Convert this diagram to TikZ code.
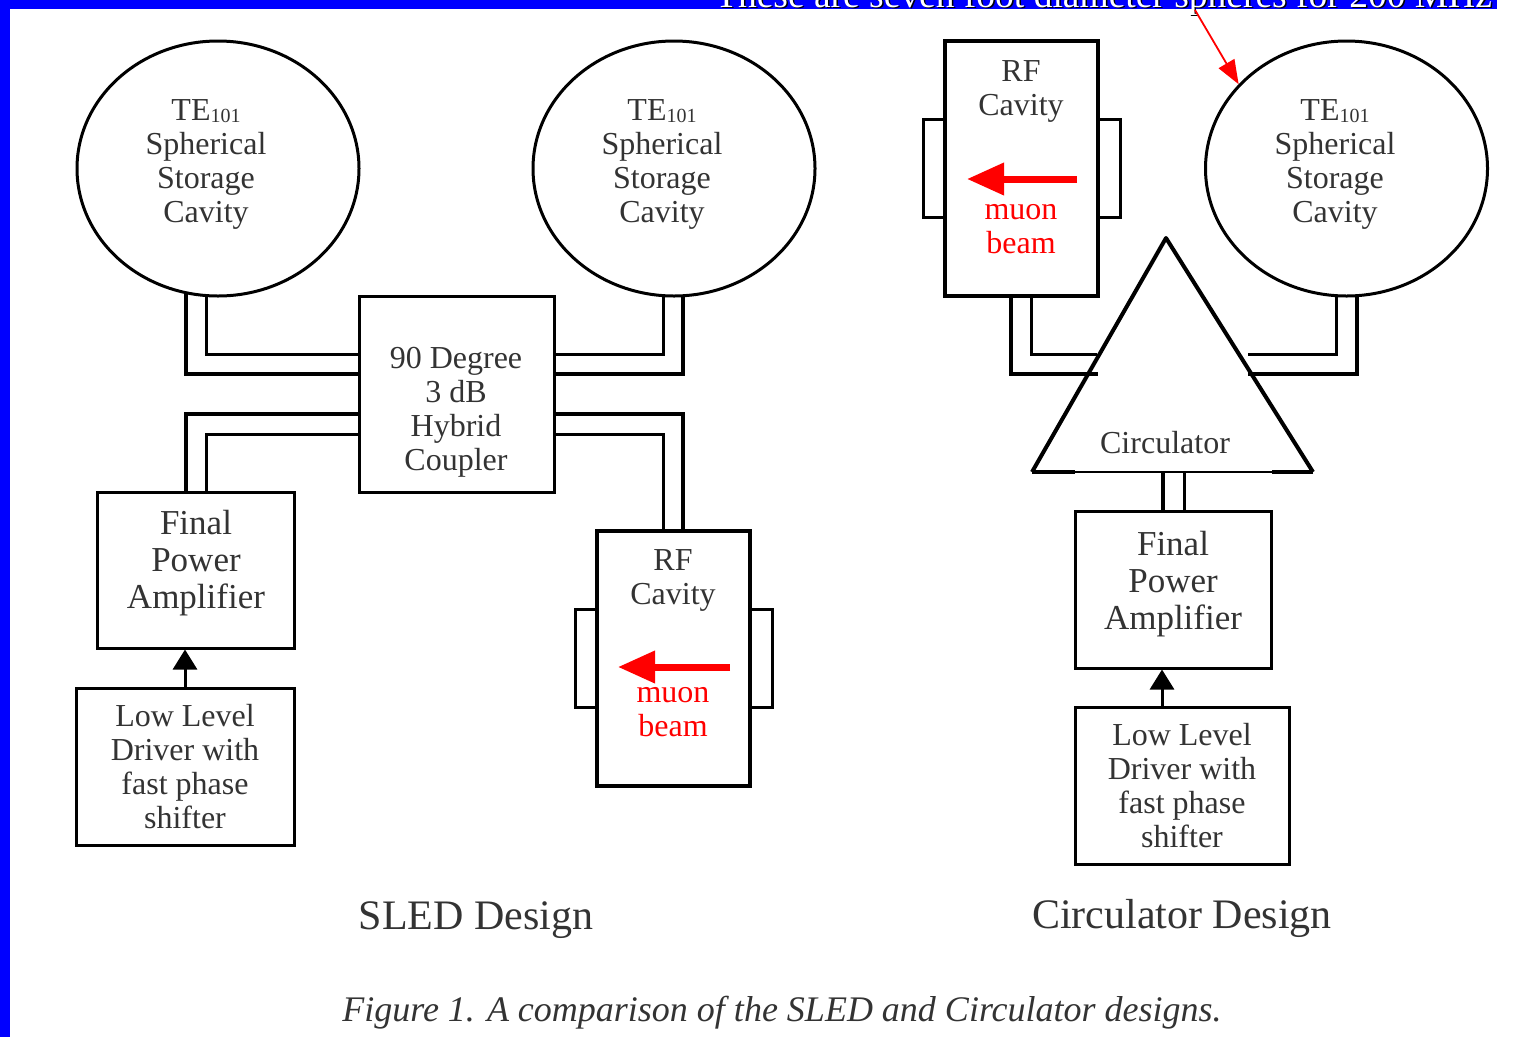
\documentclass[tikz,border=0pt]{standalone}
\usepackage{fontspec}
\setmainfont{Liberation Serif}
\usetikzlibrary{arrows.meta, shapes.geometric, positioning, backgrounds}

\newcommand{\temode}{TE\raisebox{-2pt}{\fontsize{20}{20}\selectfont 101}}

\begin{document}
\begin{tikzpicture}[x=1pt, y=-1pt,
    every node/.style={font=\fontsize{32}{34}\selectfont, text=black!80, align=center},
    box/.style={rectangle, draw=black, line width=3pt, inner sep=0pt},
    cavbox/.style={rectangle, draw=black, line width=4pt, inner sep=0pt, minimum width=153pt, minimum height=255pt},
    tab/.style={rectangle, draw=black, line width=3pt, inner sep=0pt, minimum width=22pt, minimum height=98pt},
    sphere/.style={ellipse, draw=black, fill=white, line width=3pt, inner sep=0pt, minimum width=282pt, minimum height=255pt},
    guideout/.style={line width=4pt},
    guidein/.style={line width=3pt},
    feed/.style={-{Triangle[length=20pt,width=24pt]}, line width=3pt},
    beam/.style={red, -{Triangle[length=37pt,width=31pt]}, line width=7pt},
    pointer/.style={red, -{Triangle[length=24pt,width=18pt]}, line width=1.8pt},
    redtxt/.style={text=red},
    bigtxt/.style={font=\fontsize{35}{37}\selectfont},
    title/.style={font=\fontsize{42}{44}\selectfont}]
  \useasboundingbox (0,0) rectangle (1533,1037);
  % Frame
  \fill[blue] (0,0) rectangle (1497,9);
  \fill[blue] (0,0) rectangle (10,1037);
  \node[font=\fontsize{37.5}{40}\selectfont, text=black, anchor=base] (headshade) at (1105,8.5) {These are seven foot diameter spheres for 200 MHz};
  \node[font=\fontsize{37.5}{40}\selectfont, text=white, anchor=base] (head) at (1103.5,7) {These are seven foot diameter spheres for 200 MHz};
  % Spheres
  \node[sphere] (sled1) at (218,168.5) {};
  \node[sphere] (sled2) at (674,168.5) {};
  \node[sphere] (sled3) at (1346.5,168.5) {};
  \node (sled1t) at (206,164) {\temode\\Spherical\\Storage\\Cavity};
  \node (sled2t) at (662,164) {\temode\\Spherical\\Storage\\Cavity};
  \node (sled3t) at (1335,164) {\temode\\Spherical\\Storage\\Cavity};
  % SLED design
  \node[box, minimum width=195pt, minimum height=196pt] (cpl) at (456.5,394) {};
  \node (cplt) at (456,412) {90 Degree\\3 dB\\Hybrid\\Coupler};
  \node[box, minimum width=197pt, minimum height=156pt] (fpa1) at (195.5,570) {};
  \node[bigtxt] (fpa1t) at (196,563) {Final\\Power\\Amplifier};
  \node[box, minimum width=218pt, minimum height=157pt] (lld1) at (185,766.5) {Low Level\\Driver with\\fast phase\\shifter};
  \node[cavbox] (rf1) at (673.5,658) {};
  \node[tab, left=-3.5pt of rf1] (rf1l) {};
  \node[tab, right=-3.5pt of rf1] (rf1r) {};
  \node (rf1t) at (673,580) {RF\\Cavity};
  \node[redtxt] (rf1b) at (673,712) {muon\\beam};
  \draw[beam] ([xshift=56.5pt,yshift=-9pt]rf1.center) -- ([xshift=-55.5pt,yshift=-9pt]rf1.center);
  % Circulator design
  \node[cavbox] (rf2) at (1021.5,168.5) {};
  \node[tab, left=-3.5pt of rf2] (rf2l) {};
  \node[tab, right=-3.5pt of rf2] (rf2r) {};
  \node (rf2t) at (1021,91) {RF\\Cavity};
  \node[redtxt] (rf2b) at (1021,229) {muon\\beam};
  \draw[beam] ([xshift=55.5pt,yshift=-10.5pt]rf2.center) -- ([xshift=-54.5pt,yshift=-10.5pt]rf2.center);
  \coordinate (circtop) at (1166,238);
  \coordinate (circl) at (1032,472);
  \coordinate (circr) at (1313,472);
  \draw[line width=4pt, line join=round] (circl) -- (circtop) -- (circr);
  \draw[line width=4pt] (circl) -- ++(43,0);
  \draw[line width=4pt] (circr) -- ++(-41,0);
  \draw[line width=1.2pt] (circl) -- (circr);
  \node (circt) at (1165,443) {Circulator};
  \node[box, minimum width=196pt, minimum height=157pt] (fpa2) at (1173,589.5) {};
  \node[bigtxt] (fpa2t) at (1173,584) {Final\\Power\\Amplifier};
  \node[box, minimum width=214pt, minimum height=157pt] (lld2) at (1182,785.5) {Low Level\\Driver with\\fast phase\\shifter};
  \coordinate (portlo) at (1098,374);
  \coordinate (portli) at (1097,354);
  \coordinate (portro) at (1248,374);
  \coordinate (portri) at (1248,354);
  \coordinate (portbl) at (1163,472);
  \coordinate (portbr) at (1184,472);
  % Waveguides
  \begin{scope}[on background layer]
    \draw[guideout] ([xshift=-32pt]sled1.center) |- ([yshift=20pt]cpl.west);
    \draw[guidein] ([xshift=-12pt]sled1.center) |- ([yshift=40pt]cpl.west);
    \draw[guideout] ([xshift=9pt]sled2.center) |- ([yshift=20pt]cpl.east);
    \draw[guidein] ([xshift=-11pt]sled2.center) |- ([yshift=40pt]cpl.east);
    \draw[guideout] ([xshift=10.5pt]sled3.center) |- (portro);
    \draw[guidein] ([xshift=-10.5pt]sled3.center) |- (portri);
  \end{scope}
  \draw[guideout] ([yshift=-20pt]cpl.west) -| ([xshift=-9.5pt]fpa1.north);
  \draw[guidein] ([yshift=-40pt]cpl.west) -| ([xshift=10.5pt]fpa1.north);
  \draw[guideout] ([yshift=-20pt]cpl.east) -| ([xshift=9.5pt]rf1.north);
  \draw[guidein] ([yshift=-40pt]cpl.east) -| ([xshift=-10.5pt]rf1.north);
  \draw[guideout] ([xshift=-10.5pt]rf2.south) |- (portlo);
  \draw[guidein] ([xshift=9.5pt]rf2.south) |- (portli);
  \draw[guideout] (portbl) -- (portbl |- fpa2.north);
  \draw[guidein] (portbr) -- (portbr |- fpa2.north);
  % Drive arrows
  \draw[feed] (lld1.north) -- (lld1.north |- fpa1.south);
  \draw[feed] ([xshift=-20pt]lld2.north) -- ([xshift=-20pt]lld2.north |- fpa2.south);
  \coordinate (ptr) at (1195,10);
  \draw[pointer] (ptr) -- (sled3.142);
  % Labels
  \node[title] (sledlbl) at (476,920) {SLED Design};
  \node[title] (circlbl) at (1182,918) {Circulator Design};
  \node[font=\fontsize{36}{38}\selectfont\itshape] (caption) at (782,1013) {Figure 1. A comparison of the SLED and Circulator designs.};
\end{tikzpicture}
\end{document}
